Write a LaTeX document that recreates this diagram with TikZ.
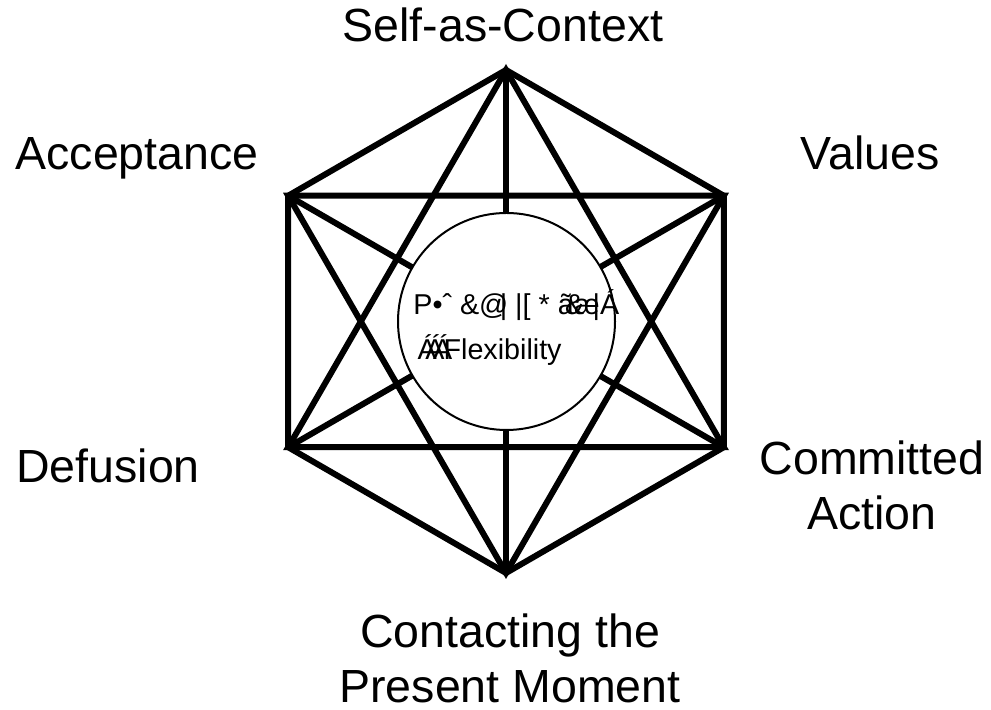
\documentclass[tikz,border=0pt]{standalone}
\usepackage{fontspec}
\setmainfont{Liberation Sans}
\usetikzlibrary{positioning}

\newcommand*{\labelsize}{\fontsize{23.25}{27.5}\selectfont}
\newcommand*{\coresize}{\fontsize{14.35}{22.5}\selectfont}

\begin{document}
\begin{tikzpicture}
[
	x=0.5pt, y=0.5pt,
	edge/.style={line width=3pt},
	procname/.style={font=\labelsize, align=center, inner sep=0pt, anchor=base},
	core/.style={circle, draw, fill=white, line width=1pt, minimum size=108.5pt, inner sep=0pt},
	coretext/.style={font=\coresize, align=left, inner sep=0pt, anchor=base west}
]
	\useasboundingbox (0,0) rectangle (991,710);

	% vertices
	\coordinate (self) at (506,640);
	\coordinate (val) at (723.8,514.25);
	\coordinate (act) at (723.8,262.75);
	\coordinate (pres) at (506,137);
	\coordinate (defu) at (288.2,262.75);
	\coordinate (acc) at (288.2,514.25);

	% hexagon
	\draw[edge] (self) -- (val) -- (act) -- (pres) -- (defu) -- (acc) -- cycle;

	% triangles
	\draw[edge] (self) -- (act) -- (defu) -- cycle;
	\draw[edge] (val) -- (pres) -- (acc) -- cycle;

	% long diagonals
	\draw[edge] (self) -- (pres);
	\draw[edge] (acc) -- (act);
	\draw[edge] (val) -- (defu);

	% centre
	\node[core] (centre) at (506.5,388.5) {};
	\node[coretext] (flex) at (413,350) {P•ˆ \&@\kern-.3em|\ |[ * ã\kern-.3em\&\kern-.35emæ\kern-.25em|Á\\
		\kern.15emÁ\kern-.4emÁ\kern-.4emÁ\kern-.3emFlexibility};

	% labels
	\node[procname] (selflab) at (503,668) {Self-as-Context};
	\node[procname] (vallab) at (870,540) {Values};
	\node[procname] (actlab) at (872,180) {Committed\\Action};
	\node[procname] (preslab) at (510,7) {Contacting the\\Present Moment};
	\node[procname] (defulab) at (108,227) {Defusion};
	\node[procname] (acclab) at (137,540) {Acceptance};

\end{tikzpicture}
\end{document}
